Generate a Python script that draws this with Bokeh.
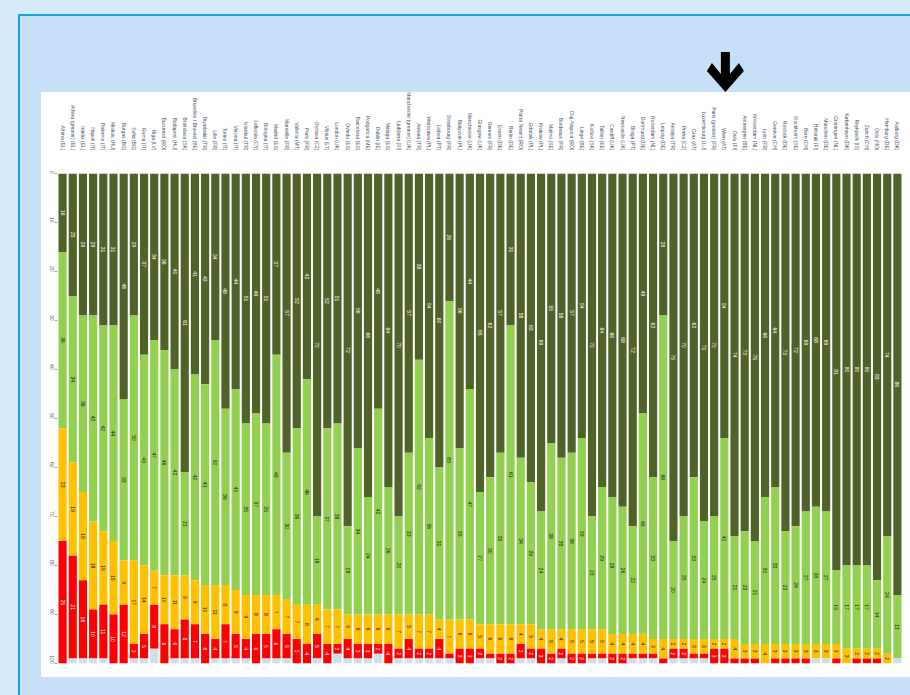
import math
from bokeh.plotting import figure
from bokeh.models import FactorRange, Range1d, ColumnDataSource, FixedTicker
from bokeh.core.properties import value
from bokeh.embed import file_html
from bokeh.resources import INLINE

cities = [
    "Athina (EL)", "Athina (greater) (EL)", "Iraklio (EL)", "Napoli (IT)", "Palermo (IT)",
    "Miskolc (HU)", "Burgas (BG)", "Sofia (BG)", "Roma (IT)", "Riga (LV)",
    "Bucuresti (RO)", "Budapest (HU)", "Bratislava (SK)", "Bruxelles / Brussel (BE)", "Diyarbakir (TR)",
    "Lille (FR)", "Torino (IT)", "Verona (IT)", "Istanbul (TR)", "Lefkosia (CY)",
    "Bologna (IT)", "Madrid (ES)", "Marseille (FR)", "Valletta (MT)", "Paris (FR)",
    "Ostrava (CZ)", "Vilnius (LT)", "London (UK)", "Oviedo (ES)", "Barcelona (ES)",
    "Podgorica (ME)", "Dublin (IE)", "Málaga (ES)", "Ljubljana (SI)", "Manchester (greater) (UK)",
    "Ankara (TR)", "Warszawa (PL)", "Lisboa (PT)", "Strasbourg (FR)", "Białystok (PL)",
    "Manchester (UK)", "Glasgow (UK)", "Rennes (FR)", "Essen (DE)", "Berlin (DE)",
    "Piatra Neamţ (RO)", "Gdańsk (PL)", "Kraków (PL)", "Malmö (SE)", "Bordeaux (FR)",
    "Cluj-Napoca (RO)", "Liège (BE)", "Košice (SK)", "Tallinn (EE)", "Cardiff (UK)",
    "Newcastle (UK)", "Braga (PT)", "Dortmund (DE)", "Rotterdam (NL)", "Leipzig (DE)",
    "Antalya (TR)", "Praha (CZ)", "Graz (AT)", "Luxembourg (LU)", "Paris (greater) (FR)",
    "Wien (AT)", "Oulu (FI)", "Antwerpen (BE)", "Amsterdam (NL)", "Lyon (FR)",
    "Genève (CH)", "Rostock (DE)", "Stockholm (SE)", "Bern (CH)", "Helsinki (FI)",
    "München (DE)", "Groningen (NL)", "København (DK)", "Reykjavík (IS)", "Zürich (CH)",
    "Oslo (NO)", "Hamburg (DE)", "Aalborg (DK)",
]

very_satisfied = [16, 25, 29, 29, 31, 31, 46, 29, 37, 34, 36, 40, 61, 41, 43, 34, 48, 44, 51, 49,
                  51, 37, 57, 52, 42, 70, 52, 51, 72, 56, 66, 48, 64, 70, 57, 38, 54, 60, 26, 56,
                  44, 65, 62, 57, 31, 58, 63, 69, 55, 58, 57, 54, 70, 64, 66, 68, 72, 49, 62, 29,
                  75, 70, 62, 71, 70, 54, 74, 73, 75, 66, 64, 73, 72, 69, 68, 69, 81, 80, 80, 80,
                  83, 74, 86]
fairly_satisfied = [36, 34, 36, 42, 42, 44, 33, 50, 43, 47, 46, 42, 21, 42, 41, 50, 36, 41, 35, 37,
                    35, 49, 30, 36, 46, 18, 37, 38, 18, 34, 24, 42, 26, 20, 33, 52, 36, 31, 65, 35,
                    47, 27, 30, 35, 61, 34, 29, 24, 38, 35, 36, 39, 23, 29, 28, 26, 22, 45, 33, 66,
                    20, 25, 33, 24, 25, 41, 21, 23, 21, 30, 32, 23, 24, 27, 28, 27, 15, 17, 17, 17,
                    14, 24, 13]
not_very_satisfied = [23, 19, 18, 18, 15, 15, 9, 17, 14, 7, 10, 11, 9, 9, 10, 11, 8, 9, 9, 8,
                      8, 7, 7, 7, 8, 6, 7, 7, 5, 6, 6, 6, 6, 7, 5, 7, 7, 4, 7, 6,
                      6, 5, 6, 6, 6, 4, 5, 4, 5, 4, 5, 5, 5, 5, 4, 4, 4, 4, 3, 4,
                      2, 2, 3, 3, 2, 2, 4, 3, 3, 4, 3, 3, 3, 3, 3, 3, 3, 3, 2, 2,
                      2, 2, 0]
not_at_all_satisfied = [25, 21, 16, 10, 11, 10, 12, 3, 5, 9, 8, 6, 8, 7, 6, 4, 7, 5, 4, 6,
                        5, 6, 5, 5, 4, 5, 4, 2, 4, 3, 3, 2, 4, 2, 4, 2, 2, 4, 1, 3,
                        3, 2, 1, 2, 2, 3, 2, 3, 2, 2, 2, 2, 1, 1, 2, 2, 1, 1, 1, 1,
                        2, 2, 1, 1, 3, 3, 1, 1, 1, 0, 1, 1, 1, 1, 0, 0, 1, 0, 1, 1,
                        1, 0, 0]
dont_know = [0, 1, 1, 1, 1, 0, 0, 1, 1, 3, 0, 1, 1, 1, 0, 1, 1, 1, 1, 0,
             1, 1, 1, 0, 0, 1, 0, 2, 1, 1, 1, 2, 0, 1, 1, 1, 1, 1, 1, 0,
             0, 1, 1, 0, 0, 1, 1, 0, 0, 1, 0, 0, 1, 1, 0, 0, 1, 1, 1, 0,
             1, 1, 1, 1, 0, 0, 0, 0, 0, 0, 0, 0, 0, 0, 1, 1, 0, 0, 0, 0,
             0, 0, 1]
y_ticks = list(range(0, 101, 10))
highlight_city = "Wien (AT)"

series = ["very", "fairly", "notvery", "notatall", "dk"]
colors = ["#4f6228", "#92d050", "#ffc000", "#ff0000", "#d3dcea"]
label_colors = ["#ffffff", "#1a1a1a", "#1a1a1a", "#ffffff", "#333333"]
values = [very_satisfied, fairly_satisfied, not_very_satisfied, not_at_all_satisfied, dont_know]

src = ColumnDataSource(dict(city=cities, very=very_satisfied, fairly=fairly_satisfied,
                            notvery=not_very_satisfied, notatall=not_at_all_satisfied,
                            dk=dont_know))

OUTER = "#d5eafa"
INNER = "#c6e0f8"
W, H = 910, 690
LEFT, RIGHT, TOP, BOTTOM = 57, 8, 173, 27

p = figure(width=W, height=H, x_range=FactorRange(*cities, range_padding=0, factor_padding=0),
           y_range=Range1d(100, 0), output_backend="svg", toolbar_location=None,
           x_axis_location="above", min_border_left=LEFT, min_border_right=RIGHT,
           min_border_top=TOP, min_border_bottom=BOTTOM)
p.border_fill_color = None
p.background_fill_color = "#ffffff"
p.outline_line_color = None

p.vbar_stack(series, x="city", width=0.8, color=colors, line_color=None, source=src)

# segment labels
lx, ly, lt, lc = [], [], [], []
for i, c in enumerate(cities):
    cum = 0
    for k in range(5):
        v = values[k][i]
        if v >= 2 and k < 4:
            lx.append(c)
            ly.append(cum + v / 2)
            lt.append(str(v))
            lc.append(label_colors[k])
        cum += v
p.text(x="x", y="y", text="t", text_color="c", source=ColumnDataSource(dict(x=lx, y=ly, t=lt, c=lc)),
       angle=-math.pi / 2, text_font_size="5px", text_align="center", text_baseline="middle",
       text_font=value("Liberation Sans"))

p.xaxis.major_label_orientation = -math.pi / 2
p.xaxis.axis_line_color = None
p.xaxis.major_tick_line_color = None
p.xaxis.major_label_standoff = 17
p.xaxis.major_label_text_font_size = "5px"
p.xaxis.major_label_text_color = "#4a5666"
p.xaxis.major_label_text_font = "Liberation Sans"

p.yaxis.ticker = FixedTicker(ticks=y_ticks)
p.yaxis.major_label_orientation = -math.pi / 2
p.yaxis.axis_line_color = None
p.yaxis.major_tick_line_color = "#aaaaaa"
p.yaxis.major_tick_out = 3
p.yaxis.major_tick_in = 0
p.yaxis.minor_tick_line_color = None
p.yaxis.major_label_standoff = 3
p.yaxis.major_label_text_font_size = "5px"
p.yaxis.major_label_text_color = "#555555"
p.yaxis.major_label_text_font = "Liberation Sans"
p.xgrid.visible = False
p.ygrid.visible = False

# page decoration: framed light-blue panel, white chart card and a pointer arrow
px_unit = (W - LEFT - RIGHT) / len(cities)
arrow_cx = LEFT + (cities.index(highlight_city) + 0.65) * px_unit
css = """
body{background:
 linear-gradient(#ffffff,#ffffff) 41px 92px/869px 585px no-repeat,
 linear-gradient(#1aa0e0,#1aa0e0) 18px 14px/2px 681px no-repeat,
 linear-gradient(#1aa0e0,#1aa0e0) 18px 14px/892px 2px no-repeat,
 linear-gradient(%s,%s) 18px 14px/892px 681px no-repeat,
 %s;}
body::after{content:"";position:absolute;left:%.1fpx;top:52px;width:37px;height:40px;background:#000;
 clip-path:polygon(14px 0,23px 0,23px 22px,32px 11px,37px 19px,18.5px 40px,0 19px,5px 11px,14px 22px);}
""" % (INNER, INNER, OUTER, arrow_cx - 18.5)

html = file_html(p, INLINE)
html = html.replace("</head>", "<style>%s</style></head>" % css, 1)
open("out.html", "w").write(html)
